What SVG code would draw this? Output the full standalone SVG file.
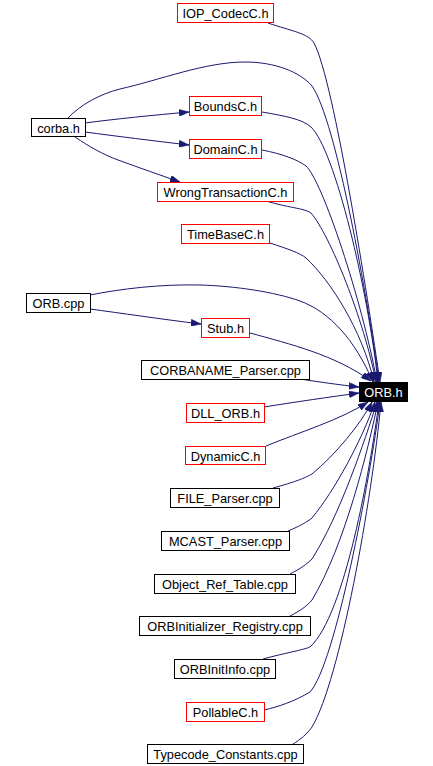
<svg xmlns="http://www.w3.org/2000/svg" width="433" height="766" viewBox="0 0 433 766">
<defs>
<marker id="arr" viewBox="0 0 10 7" refX="10" refY="3.5" markerWidth="10" markerHeight="7" markerUnits="userSpaceOnUse" orient="auto">
<path d="M0,0 L10,3.5 L0,7 z" fill="#191970" stroke="#191970" stroke-width="0.5"/>
</marker>
<style>
.n rect{fill:#fff;stroke:#000;stroke-width:1}
.r rect{stroke:#ff0000}
.n text{font-family:"Liberation Sans",Arial,sans-serif;font-size:12.8px;text-anchor:middle;fill:#000}
.k rect{fill:#000;stroke:#000}
.k text{fill:#fff}
#edges path{fill:none;stroke:#191970;stroke-width:1;marker-end:url(#arr)}
</style>
</defs>
<rect width="433" height="766" fill="#fff"/>
<g id="edges">
<path d="M268,23 C291,31 308,33 314,43 C334,80 368,300 380,382"/>
<path d="M68,118 C80,105 100,94 120,89 C160,80 205,62 245,62 C275,62 300,72 312,86 C336,120 368,300 379,382"/>
<path d="M85,123 C115,119 155,115 189,112"/>
<path d="M85,132 C115,136 155,141 189,145"/>
<path d="M75,137 C90,147 102,154 118,160 C140,168 160,175 180,182"/>
<path d="M262,112 C285,116 302,119 311,127 C335,150 368,290 378,382"/>
<path d="M262,150 C283,154 298,160 306,166 C322,180 362,300 377,382"/>
<path d="M263,200 C288,208 304,208 311,213 C330,235 364,320 376,382"/>
<path d="M270,243 C288,249 300,253 306,258 C330,280 362,330 374,382"/>
<path d="M90,295 C120,289 160,284 200,285 C235,286 275,292 300,301 C330,312 355,340 373,382"/>
<path d="M90,309 C120,313 160,319 201,324"/>
<path d="M250,333 C290,344 335,355 371,381"/>
<path d="M300,379 C320,382 340,385 359,387"/>
<path d="M264,407 C295,402 330,397 359,393"/>
<path d="M266,446 C300,432 340,420 368,402"/>
<path d="M273,488 C295,482 305,478 312,474 C335,455 360,425 372,402"/>
<path d="M288,531 C300,526 307,522 312,518 C335,490 362,440 375,402"/>
<path d="M290,574 C300,569 307,564 312,559 C340,515 365,440 377,402"/>
<path d="M290,616 C300,611 307,606 312,600 C345,545 368,450 378,402"/>
<path d="M263,659 C285,653 303,650 310,647 C345,615 370,470 379,402"/>
<path d="M264,710 C278,707 295,701 310,692 C335,665 370,480 380,402"/>
<path d="M293,744 C300,740 308,733 312,727 C340,680 372,500 381,402"/>
</g>
<g id="n_iop" class="n r"><rect x="177.5" y="3.5" width="96" height="19"/><text x="225.5" y="18">IOP_CodecC.h</text></g>
<g id="n_corba" class="n"><rect x="31.5" y="118.5" width="54" height="18"/><text x="58.5" y="132.5">corba.h</text></g>
<g id="n_bounds" class="n r"><rect x="189.5" y="96.5" width="72" height="19"/><text x="225.5" y="111">BoundsC.h</text></g>
<g id="n_domain" class="n r"><rect x="189.5" y="139.5" width="72" height="19"/><text x="225.5" y="154">DomainC.h</text></g>
<g id="n_wrong" class="n r"><rect x="157.5" y="182.5" width="136" height="19"/><text x="225.5" y="197">WrongTransactionC.h</text></g>
<g id="n_timebase" class="n r"><rect x="181.5" y="224.5" width="88" height="19"/><text x="225.5" y="239">TimeBaseC.h</text></g>
<g id="n_orbcpp" class="n"><rect x="26.5" y="293.5" width="64" height="19"/><text x="58.5" y="308">ORB.cpp</text></g>
<g id="n_stub" class="n r"><rect x="201.5" y="318.5" width="48" height="19"/><text x="225.5" y="333">Stub.h</text></g>
<g id="n_corbaname" class="n"><rect x="141.5" y="360.5" width="168" height="19"/><text x="225.5" y="375">CORBANAME_Parser.cpp</text></g>
<g id="n_orbh" class="n k"><rect x="359.5" y="382.5" width="48" height="19"/><text x="383.5" y="397">ORB.h</text></g>
<g id="n_dll" class="n r"><rect x="186.5" y="403.5" width="78" height="19"/><text x="225.5" y="418">DLL_ORB.h</text></g>
<g id="n_dynamic" class="n r"><rect x="185.5" y="446.5" width="80" height="18"/><text x="225.5" y="460.5">DynamicC.h</text></g>
<g id="n_file" class="n"><rect x="170.5" y="488.5" width="109" height="19"/><text x="225" y="503">FILE_Parser.cpp</text></g>
<g id="n_mcast" class="n"><rect x="161.5" y="531.5" width="128" height="19"/><text x="225.5" y="546">MCAST_Parser.cpp</text></g>
<g id="n_objref" class="n"><rect x="154.5" y="574.5" width="141" height="19"/><text x="225" y="589">Object_Ref_Table.cpp</text></g>
<g id="n_orbinitreg" class="n"><rect x="139.5" y="616.5" width="171" height="19"/><text x="225" y="631">ORBInitializer_Registry.cpp</text></g>
<g id="n_orbinitinfo" class="n"><rect x="174.5" y="659.5" width="101" height="19"/><text x="225" y="674">ORBInitInfo.cpp</text></g>
<g id="n_pollable" class="n r"><rect x="186.5" y="702.5" width="78" height="19"/><text x="225.5" y="717">PollableC.h</text></g>
<g id="n_typecode" class="n"><rect x="147.5" y="744.5" width="156" height="19"/><text x="225.5" y="759">Typecode_Constants.cpp</text></g>
</svg>
